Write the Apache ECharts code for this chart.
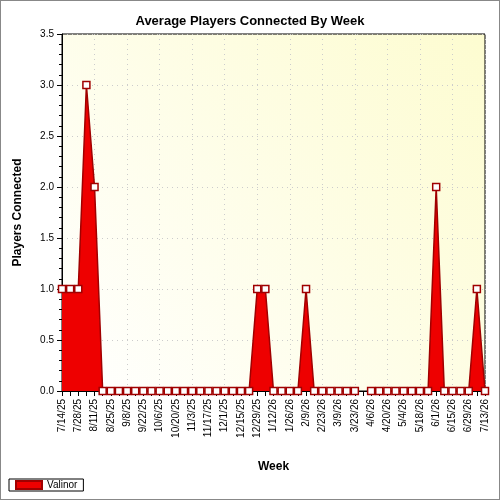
<!DOCTYPE html>
<html>
<head>
<meta charset="utf-8">
<script src="https://cdn.jsdelivr.net/npm/echarts@6/dist/echarts.min.js"></script>
<style>
  html, body { margin: 0; padding: 0; background: #fff; }
  #chart { width: 500px; height: 500px; box-sizing: border-box; border: 1px solid #888; }
</style>
</head>
<body>
<div id="chart"></div>
<script>
const weeks = [
  "7/14/25", "7/21/25", "7/28/25", "8/4/25", "8/11/25", "8/18/25", "8/25/25", "9/1/25", "9/8/25",
  "9/15/25", "9/22/25", "9/29/25", "10/6/25", "10/13/25", "10/20/25", "10/27/25", "11/3/25",
  "11/10/25", "11/17/25", "11/24/25", "12/1/25", "12/8/25", "12/15/25", "12/22/25", "12/29/25",
  "1/5/26", "1/12/26", "1/19/26", "1/26/26", "2/2/26", "2/9/26", "2/16/26", "2/23/26", "3/2/26",
  "3/9/26", "3/16/26", "3/23/26", "3/30/26", "4/6/26", "4/13/26", "4/20/26", "4/27/26", "5/4/26",
  "5/11/26", "5/18/26", "5/25/26", "6/1/26", "6/8/26", "6/15/26", "6/22/26", "6/29/26", "7/6/26",
  "7/13/26"
];
const valinor = [
  1, 1, 1, 3, 2, 0, 0, 0, 0, 0, 0, 0, 0, 0, 0, 0, 0, 0, 0, 0, 0, 0, 0, 0, 1,
  1, 0, 0, 0, 0, 1, 0, 0, 0, 0, 0, 0, null, 0, 0, 0, 0, 0, 0, 0, 0, 2, 0, 0, 0, 0, 1, 0
];
const yTicks = { min: 0, max: 3.5, interval: 0.5 };

const chart = echarts.init(document.getElementById("chart"));
const font = "Liberation Sans";
chart.setOption({
  backgroundColor: "#fff",
  textStyle: { fontFamily: font },
  title: {
    text: "Average Players Connected By Week",
    left: "center", top: 9,
    textStyle: { fontSize: 13, fontWeight: "bold", color: "#000", fontFamily: font },
  },
  grid: {
    left: 61, right: 14, top: 33, bottom: 108,
    show: true, borderColor: "#000", borderWidth: 1,
    backgroundColor: new echarts.graphic.LinearGradient(0, 1, 1, 0, [
      { offset: 0, color: "#ffffff" },
      { offset: 1, color: "#fdfcd0" },
    ]),
  },
  legend: {
    left: 8, bottom: 8, itemWidth: 26, itemHeight: 8,
    backgroundColor: "#fff", borderColor: "#000", borderWidth: 1, padding: [1, 6],
    textStyle: { fontSize: 10, color: "#000" },
    data: [{ name: "Valinor", icon: "rect", itemStyle: { color: "#ee0000", borderColor: "#a00000" } }],
  },
  xAxis: {
    type: "category", data: weeks, boundaryGap: false,
    name: "Week", nameLocation: "middle", nameGap: 70,
    nameTextStyle: { fontSize: 12, fontWeight: "bold", color: "#000" },
    axisLine: { lineStyle: { color: "#000" } },
    axisTick: { interval: 0, alignWithLabel: true, lineStyle: { color: "#000" } },
    axisLabel: { interval: 1, rotate: 90, fontSize: 10, color: "#000" },
    splitLine: { show: true, interval: 3, lineStyle: { color: "#ccc", type: [1, 4] } },
  },
  yAxis: {
    type: "value", min: yTicks.min, max: yTicks.max, interval: yTicks.interval,
    name: "Players Connected", nameLocation: "middle", nameGap: 38,
    nameTextStyle: { fontSize: 12, fontWeight: "bold", color: "#000" },
    axisLine: { show: true, lineStyle: { color: "#000" } },
    axisTick: { show: true, lineStyle: { color: "#000" } },
    minorTick: { show: true, splitNumber: 5, length: 3, lineStyle: { color: "#000" } },
    axisLabel: { fontSize: 10, color: "#000", formatter: v => v.toFixed(1) },
    splitLine: { show: true, lineStyle: { color: "#ccc", type: [1, 4] } },
  },
  series: [{
    name: "Valinor", type: "line", data: valinor,
    symbol: "rect", symbolSize: 7, showAllSymbol: true,
    itemStyle: { color: "#fff", borderColor: "#a00000", borderWidth: 1.5 },
    lineStyle: { color: "#a00000", width: 1.5 },
    areaStyle: { color: "#ee0000", opacity: 1 },
  }],
});
</script>
</body>
</html>
